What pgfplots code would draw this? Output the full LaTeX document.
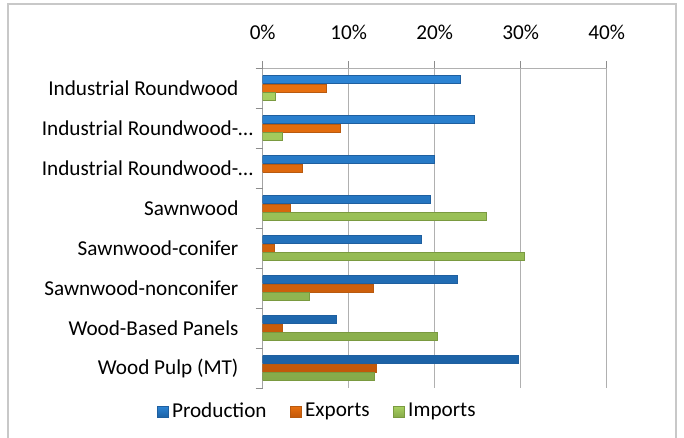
\documentclass[border=0pt]{standalone}
\usepackage{pgfplots}
\pgfplotsset{compat=1.18}
\usepackage{fontspec}
\setmainfont{Carlito}
\definecolor{bTop}{HTML}{2C84D4}
\definecolor{bMid}{HTML}{5AB2F6}
\definecolor{bBot}{HTML}{1C62A6}
\definecolor{bDraw}{HTML}{1F5F9F}
\definecolor{oTop}{HTML}{E8700F}
\definecolor{oMid}{HTML}{FBA252}
\definecolor{oBot}{HTML}{C2580A}
\definecolor{oDraw}{HTML}{B85A10}
\definecolor{gTop}{HTML}{A8D060}
\definecolor{gMid}{HTML}{D4F69C}
\definecolor{gBot}{HTML}{86AA4A}
\definecolor{gDraw}{HTML}{7A9A40}
\definecolor{frameC}{HTML}{C8C8C8}
\definecolor{gridC}{HTML}{B0B0B0}
\definecolor{axisC}{HTML}{8C8C8C}
\begin{document}
\fontsize{21.2bp}{25bp}\selectfont
\begin{tikzpicture}
\path[use as bounding box] (0,0) rectangle (684bp,438bp);
\draw[frameC, line width=2bp] (8bp,-5bp) |- (676bp,434bp) -- (676bp,-5bp);
\begin{axis}[
  at={(262.7bp,50bp)}, anchor=south west,
  scale only axis, width=344bp, height=320bp,
  xbar, bar width=8bp,
  xmin=0, xmax=40, ymin=0.5, ymax=8.5, y dir=reverse,
  axis line style={draw=none},
  xtick={0,10,20,30,40},
  xticklabels={0\%,10\%,20\%,30\%,40\%},
  xticklabel pos=upper, xtick pos=upper,
  tick align=outside, major tick length=7bp,
  tick style={axisC, line width=0.8bp},
  xmajorgrids, grid style={gridC, line width=1bp},
  ytick={0.5,1.5,...,8.5}, yticklabels={},
  ytick pos=left,
  extra y ticks={1,2,3,4,5,6,7,8},
  extra y tick labels={Industrial Roundwood,Industrial Roundwood-\rlap{…},Industrial Roundwood-\rlap{…},Sawnwood,Sawnwood-conifer,Sawnwood-nonconifer,Wood-Based Panels,Wood Pulp (MT)},
  extra y tick style={major tick length=0pt, yticklabel style={anchor=east, xshift=-17bp}},
  xticklabel style={yshift=14bp},
  legend columns=3,
  legend style={draw=none, fill=none, at={(0.161,-0.074)}, anchor=center,
    /tikz/every even column/.append style={column sep=20bp},
    nodes={inner xsep=3.5bp}},
  legend image code/.code={\draw[#1] (0bp,-5.5bp) rectangle (11bp,5.5bp);},
]
\addplot[bar shift=8.4bp, draw=bDraw, line width=0.5bp, top color=bTop, middle color=bMid, bottom color=bBot] coordinates {
(23.0,1) (24.65,2) (20.0,3) (19.5,4) (18.4,5) (22.6,6) (8.6,7) (29.7,8)};
\addplot[bar shift=0bp, draw=oDraw, line width=0.5bp, top color=oTop, middle color=oMid, bottom color=oBot] coordinates {
(7.4,1) (9.0,2) (4.6,3) (3.2,4) (1.3,5) (12.9,6) (2.3,7) (13.2,8)};
\addplot[bar shift=-8.4bp, draw=gDraw, line width=0.5bp, top color=gTop, middle color=gMid, bottom color=gBot] coordinates {
(1.5,1) (2.3,2) (26.0,4) (30.4,5) (5.4,6) (20.3,7) (13.0,8)};
\legend{Production,Exports,Imports}
\draw[gridC, line width=1bp] (axis cs:0,0.5) -- (axis cs:40,0.5);
\draw[axisC, line width=1bp] (axis cs:0,0.5) -- (axis cs:0,8.5);
\end{axis}
\end{tikzpicture}
\end{document}
